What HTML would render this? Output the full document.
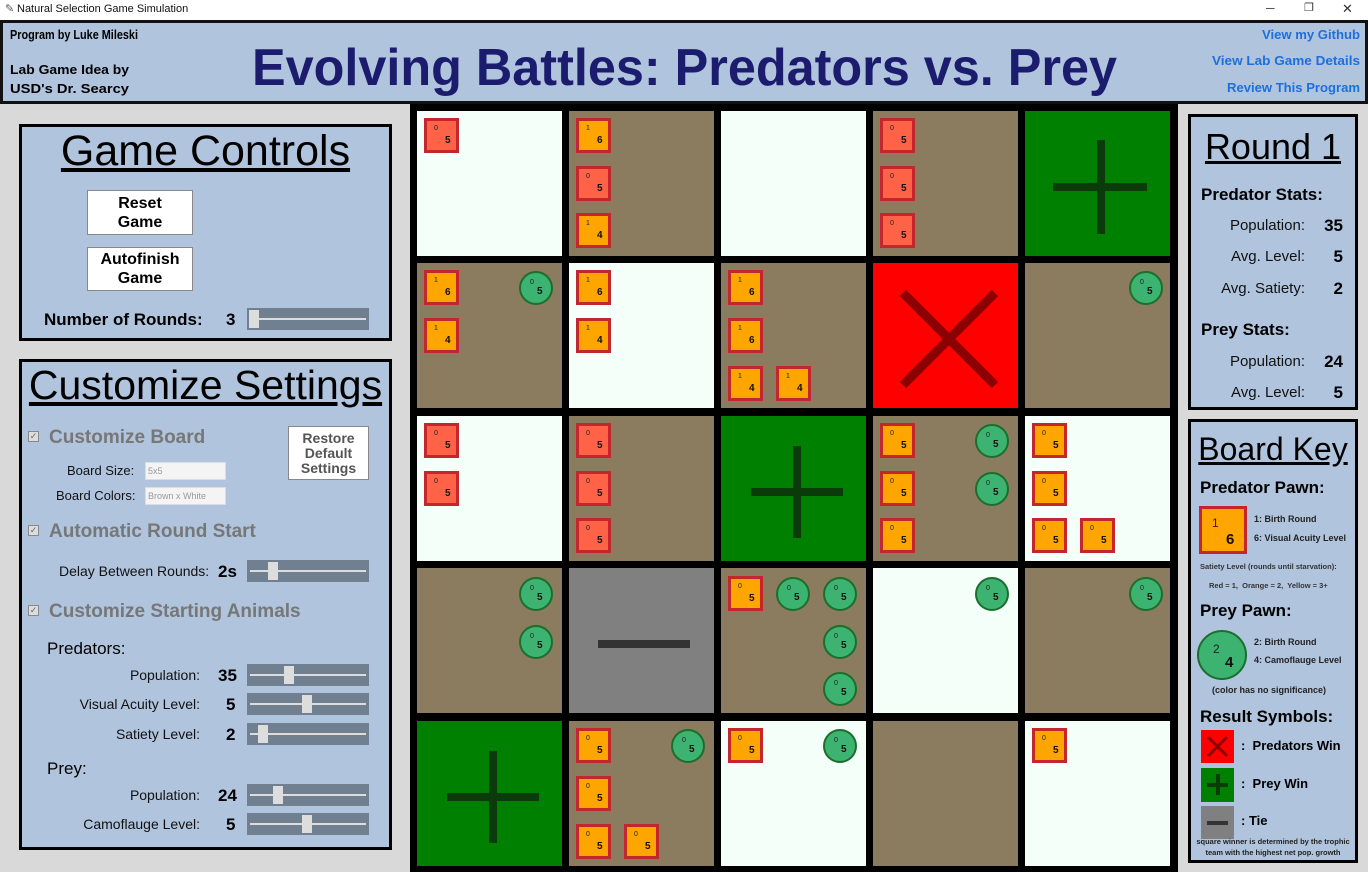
<!DOCTYPE html>
<html><head><meta charset="utf-8"><style>
*{margin:0;padding:0;box-sizing:border-box}
body{width:1368px;height:872px;position:relative;overflow:hidden;background:#d9d9d9;font-family:"Liberation Sans",sans-serif}
.a{position:absolute}
.t{position:absolute;white-space:nowrap;line-height:1}
.cell{position:absolute;width:145px;height:145px}
.W{background:#f5fffa}.B{background:#8b7b5f}.G{background:#008000}.R{background:#ff0000}.Y{background:#808080}
.p{position:absolute;width:35px;height:35px;border:3px solid #c3272d}
.r{background:#ff6347}.o{background:#ffa500}
.p i,.c i{position:absolute;font-style:normal;font-size:7px;left:7px;top:4px;color:#222}
.p b,.c b{position:absolute;font-size:10px;left:18px;top:14px;color:#111}
.c{position:absolute;width:34px;height:34px;border-radius:50%;background:#3cb371;border:2px solid #1c6e2c}
.c i{left:9px;top:6px}.c b{left:16px;top:13px}
.box{position:absolute;background:#b0c4de;border:3px solid #000}
.sl{position:absolute;width:122px;height:22px;background:#708090}
.sl:before{content:"";position:absolute;left:3px;right:3px;top:10px;height:2px;background:#ddd}
.sl span{position:absolute;top:2px;width:10px;height:18px;background:#ddd}
.lbl{font-size:15px;color:#111}
.val{font-size:17px;font-weight:bold}
.gh{font-size:19px;font-weight:bold;color:#777}
.ck{position:absolute;width:11px;height:11px;border:1px solid #888;background:#ddd;font-size:9px;line-height:9px;color:#666;text-align:center}
.btn{position:absolute;background:#fff;border:1px solid #888;text-align:center;font-weight:bold;font-size:16px;line-height:19px;display:flex;align-items:center;justify-content:center}
.cb{position:absolute;height:18px;background:#f4f4f4;border:1px solid #ddd;font-size:9px;color:#999;padding:3px 2px}
.rs{font-size:15px;color:#111;text-align:right}
.k{font-size:9px;font-weight:bold;color:#222}
</style></head><body>
<!-- title bar -->
<div class="a" style="left:0;top:0;width:1368px;height:20px;background:#fff"></div>
<div class="t" style="left:5px;top:4px;font-size:11px;color:#555">✎</div>
<div class="t" style="left:17px;top:4px;font-size:11px;color:#111">Natural Selection Game Simulation</div>
<div class="t" style="left:1266px;top:2px;font-size:12px;color:#333">─</div>
<div class="t" style="left:1304px;top:3px;font-size:11px;color:#333">❐</div>
<div class="t" style="left:1342px;top:2px;font-size:13px;color:#333">✕</div>
<!-- header -->
<div class="a" style="left:0;top:20px;width:1368px;height:84px;background:#b0c4de;border:3px solid #111"></div>
<svg class="a" style="left:0;top:20px" width="1368" height="84" font-family="Liberation Sans, sans-serif" font-weight="bold">
<text x="10" y="19" font-size="13" textLength="128" lengthAdjust="spacingAndGlyphs">Program by Luke Mileski</text>
<text x="10" y="54" font-size="13" textLength="119" lengthAdjust="spacingAndGlyphs">Lab Game Idea by</text>
<text x="10" y="73" font-size="13" textLength="119" lengthAdjust="spacingAndGlyphs">USD's Dr. Searcy</text>
<text x="252" y="65" font-size="52" fill="#1c1c6e" textLength="865" lengthAdjust="spacingAndGlyphs">Evolving Battles: Predators vs. Prey</text>
<text x="1360" y="19" font-size="13" fill="#1e6fd9" text-anchor="end" textLength="98" lengthAdjust="spacingAndGlyphs">View my Github</text>
<text x="1360" y="45" font-size="13" fill="#1e6fd9" text-anchor="end" textLength="148" lengthAdjust="spacingAndGlyphs">View Lab Game Details</text>
<text x="1360" y="72" font-size="13" fill="#1e6fd9" text-anchor="end" textLength="133" lengthAdjust="spacingAndGlyphs">Review This Program</text>
</svg>

<!-- left: game controls -->
<div class="box" style="left:19px;top:124px;width:373px;height:217px"></div>
<div class="t" style="left:19px;top:130px;width:373px;text-align:center;font-size:43px;text-decoration:underline">Game Controls</div>
<div class="btn" style="left:87px;top:190px;width:106px;height:45px">Reset<br>Game</div>
<div class="btn" style="left:87px;top:247px;width:106px;height:44px">Autofinish<br>Game</div>
<div class="t val" style="left:44px;top:311px">Number of Rounds:</div>
<div class="t val" style="left:226px;top:311px">3</div>
<div class="sl" style="left:247px;top:308px"><span style="left:2px"></span></div>

<!-- customize settings -->
<div class="box" style="left:19px;top:359px;width:373px;height:491px"></div>
<div class="t" style="left:19px;top:365px;width:373px;text-align:center;font-size:41px;text-decoration:underline">Customize Settings</div>
<div class="ck" style="left:28px;top:431px">✓</div>
<div class="t gh" style="left:49px;top:428px">Customize Board</div>
<div class="btn" style="left:288px;top:426px;width:81px;height:54px;font-size:14px;line-height:15px;color:#555">Restore<br>Default<br>Settings</div>
<div class="t lbl" style="left:67px;top:464px;font-size:13px">Board Size:</div>
<div class="cb" style="left:145px;top:462px;width:81px">5x5</div>
<div class="t lbl" style="left:56px;top:489px;font-size:13px">Board Colors:</div>
<div class="cb" style="left:145px;top:487px;width:81px">Brown x White</div>
<div class="ck" style="left:28px;top:525px">✓</div>
<div class="t gh" style="left:49px;top:522px">Automatic Round Start</div>
<div class="t lbl" style="left:59px;top:564px;font-size:14px">Delay Between Rounds:</div>
<div class="t val" style="left:218px;top:563px">2s</div>
<div class="sl" style="left:247px;top:560px"><span style="left:21px"></span></div>
<div class="ck" style="left:28px;top:605px">✓</div>
<div class="t gh" style="left:49px;top:602px">Customize Starting Animals</div>
<div class="t" style="left:47px;top:640px;font-size:17px">Predators:</div>
<div class="t lbl" style="right:1168px;top:668px;font-size:14px">Population:</div>
<div class="t val" style="left:218px;top:667px">35</div>
<div class="sl" style="left:247px;top:664px"><span style="left:37px"></span></div>
<div class="t lbl" style="right:1168px;top:697px;font-size:14px">Visual Acuity Level:</div>
<div class="t val" style="left:226px;top:696px">5</div>
<div class="sl" style="left:247px;top:693px"><span style="left:55px"></span></div>
<div class="t lbl" style="right:1168px;top:727px;font-size:14px">Satiety Level:</div>
<div class="t val" style="left:226px;top:726px">2</div>
<div class="sl" style="left:247px;top:723px"><span style="left:11px"></span></div>
<div class="t" style="left:47px;top:760px;font-size:17px">Prey:</div>
<div class="t lbl" style="right:1168px;top:788px;font-size:14px">Population:</div>
<div class="t val" style="left:218px;top:787px">24</div>
<div class="sl" style="left:247px;top:784px"><span style="left:26px"></span></div>
<div class="t lbl" style="right:1168px;top:817px;font-size:14px">Camoflauge Level:</div>
<div class="t val" style="left:226px;top:816px">5</div>
<div class="sl" style="left:247px;top:813px"><span style="left:55px"></span></div>

<!-- board -->
<div class="a" style="left:410px;top:104px;width:768px;height:768px;background:#000"></div>
<div class="cell W" style="left:417px;top:111px"></div><div class="cell B" style="left:569px;top:111px"></div><div class="cell W" style="left:721px;top:111px"></div><div class="cell B" style="left:873px;top:111px"></div><div class="cell G" style="left:1025px;top:111px"></div>
<div class="cell B" style="left:417px;top:263px"></div><div class="cell W" style="left:569px;top:263px"></div><div class="cell B" style="left:721px;top:263px"></div><div class="cell R" style="left:873px;top:263px"></div><div class="cell B" style="left:1025px;top:263px"></div>
<div class="cell W" style="left:417px;top:416px"></div><div class="cell B" style="left:569px;top:416px"></div><div class="cell G" style="left:721px;top:416px"></div><div class="cell B" style="left:873px;top:416px"></div><div class="cell W" style="left:1025px;top:416px"></div>
<div class="cell B" style="left:417px;top:568px"></div><div class="cell Y" style="left:569px;top:568px"></div><div class="cell B" style="left:721px;top:568px"></div><div class="cell W" style="left:873px;top:568px"></div><div class="cell B" style="left:1025px;top:568px"></div>
<div class="cell G" style="left:417px;top:721px"></div><div class="cell B" style="left:569px;top:721px"></div><div class="cell W" style="left:721px;top:721px"></div><div class="cell B" style="left:873px;top:721px"></div><div class="cell W" style="left:1025px;top:721px"></div>
<!-- symbols -->
<div class="a" style="left:1053px;top:183px;width:94px;height:8px;background:#0b3a0b"></div><div class="a" style="left:1097px;top:140px;width:8px;height:94px;background:#0b3a0b"></div>
<div class="a" style="left:751px;top:488px;width:92px;height:8px;background:#0b3a0b"></div><div class="a" style="left:793px;top:446px;width:8px;height:92px;background:#0b3a0b"></div>
<div class="a" style="left:447px;top:793px;width:92px;height:8px;background:#0b3a0b"></div><div class="a" style="left:489px;top:751px;width:8px;height:92px;background:#0b3a0b"></div>
<div class="a" style="left:598px;top:640px;width:92px;height:8px;background:#333"></div>
<svg class="a" style="left:873px;top:263px" width="145" height="146"><path d="M30 30 L122 122 M122 30 L30 122" stroke="#8b0000" stroke-width="9"/></svg>

<!-- pawns row0 -->
<div class="p r" style="left:424px;top:118px"><i>0</i><b>5</b></div>
<div class="p o" style="left:576px;top:118px"><i>1</i><b>6</b></div>
<div class="p r" style="left:576px;top:166px"><i>0</i><b>5</b></div>
<div class="p o" style="left:576px;top:213px"><i>1</i><b>4</b></div>
<div class="p r" style="left:880px;top:118px"><i>0</i><b>5</b></div>
<div class="p r" style="left:880px;top:166px"><i>0</i><b>5</b></div>
<div class="p r" style="left:880px;top:213px"><i>0</i><b>5</b></div>
<!-- row1 -->
<div class="p o" style="left:424px;top:270px"><i>1</i><b>6</b></div>
<div class="p o" style="left:424px;top:318px"><i>1</i><b>4</b></div>
<div class="c" style="left:519px;top:271px"><i>0</i><b>5</b></div>
<div class="p o" style="left:576px;top:270px"><i>1</i><b>6</b></div>
<div class="p o" style="left:576px;top:318px"><i>1</i><b>4</b></div>
<div class="p o" style="left:728px;top:270px"><i>1</i><b>6</b></div>
<div class="p o" style="left:728px;top:318px"><i>1</i><b>6</b></div>
<div class="p o" style="left:728px;top:366px"><i>1</i><b>4</b></div>
<div class="p o" style="left:776px;top:366px"><i>1</i><b>4</b></div>
<div class="c" style="left:1129px;top:271px"><i>0</i><b>5</b></div>
<!-- row2 -->
<div class="p r" style="left:424px;top:423px"><i>0</i><b>5</b></div>
<div class="p r" style="left:424px;top:471px"><i>0</i><b>5</b></div>
<div class="p r" style="left:576px;top:423px"><i>0</i><b>5</b></div>
<div class="p r" style="left:576px;top:471px"><i>0</i><b>5</b></div>
<div class="p r" style="left:576px;top:518px"><i>0</i><b>5</b></div>
<div class="p o" style="left:880px;top:423px"><i>0</i><b>5</b></div>
<div class="p o" style="left:880px;top:471px"><i>0</i><b>5</b></div>
<div class="p o" style="left:880px;top:518px"><i>0</i><b>5</b></div>
<div class="c" style="left:975px;top:424px"><i>0</i><b>5</b></div>
<div class="c" style="left:975px;top:472px"><i>0</i><b>5</b></div>
<div class="p o" style="left:1032px;top:423px"><i>0</i><b>5</b></div>
<div class="p o" style="left:1032px;top:471px"><i>0</i><b>5</b></div>
<div class="p o" style="left:1032px;top:518px"><i>0</i><b>5</b></div>
<div class="p o" style="left:1080px;top:518px"><i>0</i><b>5</b></div>
<!-- row3 -->
<div class="c" style="left:519px;top:577px"><i>0</i><b>5</b></div>
<div class="c" style="left:519px;top:625px"><i>0</i><b>5</b></div>
<div class="p o" style="left:728px;top:576px"><i>0</i><b>5</b></div>
<div class="c" style="left:776px;top:577px"><i>0</i><b>5</b></div>
<div class="c" style="left:823px;top:577px"><i>0</i><b>5</b></div>
<div class="c" style="left:823px;top:625px"><i>0</i><b>5</b></div>
<div class="c" style="left:823px;top:672px"><i>0</i><b>5</b></div>
<div class="c" style="left:975px;top:577px"><i>0</i><b>5</b></div>
<div class="c" style="left:1129px;top:577px"><i>0</i><b>5</b></div>
<!-- row4 -->
<div class="p o" style="left:576px;top:728px"><i>0</i><b>5</b></div>
<div class="p o" style="left:576px;top:776px"><i>0</i><b>5</b></div>
<div class="p o" style="left:576px;top:824px"><i>0</i><b>5</b></div>
<div class="p o" style="left:624px;top:824px"><i>0</i><b>5</b></div>
<div class="c" style="left:671px;top:729px"><i>0</i><b>5</b></div>
<div class="p o" style="left:728px;top:728px"><i>0</i><b>5</b></div>
<div class="c" style="left:823px;top:729px"><i>0</i><b>5</b></div>
<div class="p o" style="left:1032px;top:728px"><i>0</i><b>5</b></div>

<!-- right: round -->
<div class="box" style="left:1188px;top:114px;width:170px;height:296px"></div>
<div class="t" style="left:1188px;top:129px;width:170px;text-align:center;font-size:36px;text-decoration:underline">Round 1</div>
<div class="t val" style="left:1201px;top:186px">Predator Stats:</div>
<div class="t rs" style="right:63px;top:218px">Population:</div><div class="t val" style="right:25px;top:217px">35</div>
<div class="t rs" style="right:63px;top:249px">Avg. Level:</div><div class="t val" style="right:25px;top:248px">5</div>
<div class="t rs" style="right:63px;top:281px">Avg. Satiety:</div><div class="t val" style="right:25px;top:280px">2</div>
<div class="t val" style="left:1201px;top:321px">Prey Stats:</div>
<div class="t rs" style="right:63px;top:354px">Population:</div><div class="t val" style="right:25px;top:353px">24</div>
<div class="t rs" style="right:63px;top:385px">Avg. Level:</div><div class="t val" style="right:25px;top:384px">5</div>

<!-- board key -->
<div class="box" style="left:1188px;top:419px;width:170px;height:444px"></div>
<div class="t" style="left:1188px;top:433px;width:170px;text-align:center;font-size:32px;text-decoration:underline">Board Key</div>
<div class="t val" style="left:1200px;top:479px">Predator Pawn:</div>
<div class="p o" style="left:1199px;top:506px;width:48px;height:48px"><i style="font-size:12px;left:10px;top:7px">1</i><b style="font-size:15px;left:24px;top:22px">6</b></div>
<div class="t k" style="left:1254px;top:515px">1: Birth Round</div>
<div class="t k" style="left:1254px;top:534px">6: Visual Acuity Level</div>
<div class="t" style="left:1200px;top:563px;font-size:7.5px;font-weight:bold;color:#333">Satiety Level (rounds until starvation):</div>
<div class="t" style="left:1209px;top:582px;font-size:7.5px;font-weight:bold;color:#333">Red = 1,&nbsp; Orange = 2,&nbsp; Yellow = 3+</div>
<div class="t val" style="left:1200px;top:602px">Prey Pawn:</div>
<div class="c" style="left:1197px;top:630px;width:50px;height:50px"><i style="font-size:12px;left:14px;top:10px">2</i><b style="font-size:15px;left:26px;top:22px">4</b></div>
<div class="t k" style="left:1254px;top:638px">2: Birth Round</div>
<div class="t k" style="left:1254px;top:656px">4: Camoflauge Level</div>
<div class="t" style="left:1212px;top:686px;font-size:9px;font-weight:bold;color:#222">(color has no significance)</div>
<div class="t val" style="left:1200px;top:708px">Result Symbols:</div>
<div class="a" style="left:1201px;top:730px;width:33px;height:33px;background:#f00"></div>
<svg class="a" style="left:1201px;top:730px" width="33" height="33"><path d="M7 7L26 26M26 7L7 26" stroke="#8b0000" stroke-width="3"/></svg>
<div class="t" style="left:1241px;top:739px;font-size:13px;font-weight:bold">:&nbsp; Predators Win</div>
<div class="a" style="left:1201px;top:768px;width:33px;height:34px;background:#008000"></div>
<div class="a" style="left:1207px;top:783px;width:21px;height:4px;background:#0b3a0b"></div><div class="a" style="left:1216px;top:774px;width:4px;height:21px;background:#0b3a0b"></div>
<div class="t" style="left:1241px;top:777px;font-size:13px;font-weight:bold">:&nbsp; Prey Win</div>
<div class="a" style="left:1201px;top:806px;width:33px;height:33px;background:#808080"></div>
<div class="a" style="left:1207px;top:821px;width:21px;height:4px;background:#333"></div>
<div class="t" style="left:1241px;top:814px;font-size:13px;font-weight:bold">: Tie</div>
<div class="t" style="left:1188px;top:838px;width:170px;text-align:center;font-size:7.5px;font-weight:bold;color:#222">square winner is determined by the trophic</div>
<div class="t" style="left:1188px;top:849px;width:170px;text-align:center;font-size:7.5px;font-weight:bold;color:#222">team with the highest net pop. growth</div>
</body></html>
